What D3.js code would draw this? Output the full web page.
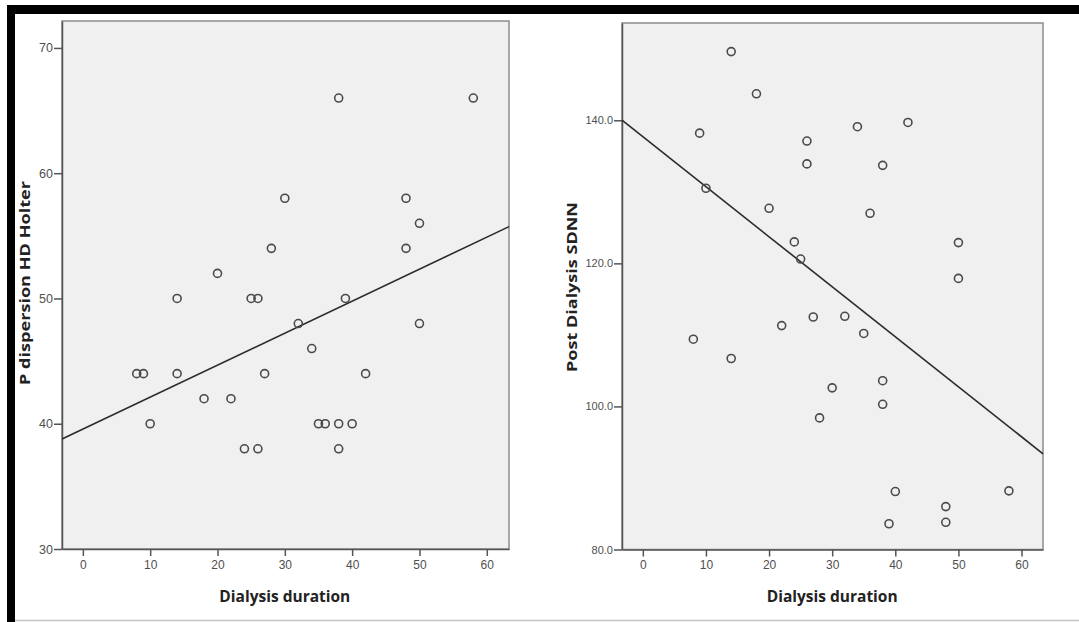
<!DOCTYPE html>
<html>
<head>
<meta charset="utf-8">
<script src="https://cdn.jsdelivr.net/npm/d3@7"></script>
<style>
  body { margin: 0; background: #fff; }
  svg { display: block; }
  .tick text { font-family: "Liberation Sans", Arial, sans-serif; fill: #4f4f4f; }
  .title { font-family: "Open Sans", sans-serif; font-weight: 700; fill: #222; }
</style>
</head>
<body>
<svg id="chart" width="1079" height="622"></svg>
<script>
// Left panel: dialysis duration vs P dispersion
const leftDuration = [8, 9, 10, 14, 14, 18, 20, 22, 24, 25, 26, 26, 27, 28, 30,
  32, 34, 35, 36, 38, 38, 38, 39, 40, 42, 48, 48, 50, 50, 58];
const leftPDisp = [44, 44, 40, 50, 44, 42, 52, 42, 38, 50, 50, 38, 44, 54, 58,
  48, 46, 40, 40, 66, 40, 38, 50, 40, 44, 58, 54, 56, 48, 66];
const leftFit = { intercept: 39.57, slope: 0.2554 };
const leftYTicks = [30, 40, 50, 60, 70];

// Right panel: dialysis duration vs post dialysis SDNN
const rightDuration = [8, 9, 10, 14, 14, 18, 20, 22, 24, 25, 26, 26, 27, 28, 30,
  32, 34, 35, 36, 38, 38, 38, 39, 40, 42, 48, 48, 50, 50, 58];
const rightSDNN = [109.4, 138.2, 130.5, 149.6, 106.7, 143.7, 127.7, 111.3, 123.0, 120.6,
  137.1, 133.9, 112.5, 98.4, 102.6, 112.6, 139.1, 110.2, 127.0, 133.7,
  103.6, 100.3, 83.6, 88.1, 139.7, 86.0, 83.8, 122.9, 117.9, 88.2];
const rightFit = { intercept: 137.7, slope: -0.699 };
const rightYTicks = [80, 100, 120, 140];

const xTicks = [0, 10, 20, 30, 40, 50, 60];

const svg = d3.select("#chart");

// outer frame
svg.append("rect").attr("x", 7).attr("y", 5).attr("width", 1072).attr("height", 9).attr("fill", "#000");
svg.append("rect").attr("x", 7).attr("y", 5).attr("width", 8).attr("height", 617).attr("fill", "#000");
svg.append("line").attr("x1", 15).attr("x2", 1079).attr("y1", 620.5).attr("y2", 620.5)
  .attr("stroke", "#c4c4c4").attr("stroke-width", 1.5);

function drawPanel(p) {
  const x = d3.scaleLinear().domain(p.xDomain).range([p.left, p.right]);
  const y = d3.scaleLinear().domain(p.yDomain).range([p.bottom, p.top]);

  // plot background
  svg.append("rect")
    .attr("x", p.left).attr("y", p.top)
    .attr("width", p.right - p.left).attr("height", p.bottom - p.top)
    .attr("fill", "#f0f0f0")
    .attr("stroke", "#8c8c8c")
    .attr("stroke-width", 1.5);

  // axes
  const yAxis = svg.append("g")
    .attr("transform", `translate(${p.left},0)`)
    .call(d3.axisLeft(y).tickValues(p.yTicks).tickFormat(d3.format(p.yFormat))
      .tickSizeInner(8).tickSizeOuter(0).tickPadding(1));
  const xAxis = svg.append("g")
    .attr("transform", `translate(0,${p.bottom})`)
    .call(d3.axisBottom(x).tickValues(xTicks).tickFormat(d3.format("d"))
      .tickSizeInner(7).tickSizeOuter(0).tickPadding(4));
  [xAxis, yAxis].forEach(g => {
    g.select(".domain").attr("stroke", "#555").attr("stroke-width", 1.5);
    g.selectAll(".tick line").attr("stroke", "#555").attr("stroke-width", 1.5);
  });
  yAxis.selectAll(".tick text").attr("font-size", p.yTickFont);
  xAxis.selectAll(".tick text").attr("font-size", 12);

  // fit line
  const x0 = p.xDomain[0], x1 = p.xDomain[1];
  svg.append("line")
    .attr("x1", x(x0)).attr("y1", y(p.fit.intercept + p.fit.slope * x0))
    .attr("x2", x(x1)).attr("y2", y(p.fit.intercept + p.fit.slope * x1))
    .attr("stroke", "#2b2b2b")
    .attr("stroke-width", 1.6);

  // points
  svg.append("g")
    .selectAll("circle")
    .data(p.xs.map((d, i) => [d, p.ys[i]]))
    .join("circle")
    .attr("cx", d => x(d[0]))
    .attr("cy", d => y(d[1]))
    .attr("r", 4)
    .attr("fill", "none")
    .attr("stroke", "#4a4a4a")
    .attr("stroke-width", 1.6);

  // titles
  svg.append("text")
    .attr("class", "title")
    .attr("x", x(30))
    .attr("y", 602)
    .attr("text-anchor", "middle")
    .attr("font-size", 15.5)
    .text("Dialysis duration");

  svg.append("text")
    .attr("class", "title")
    .attr("transform", `translate(${p.yTitleX},${p.yTitleY}) rotate(-90)`)
    .attr("text-anchor", "middle")
    .attr("font-size", 15)
    .attr("textLength", p.yTitleLen)
    .attr("lengthAdjust", "spacingAndGlyphs")
    .text(p.yTitle);
}

drawPanel({
  xs: leftDuration, ys: leftPDisp, fit: leftFit,
  left: 62, right: 509, top: 21, bottom: 549,
  xDomain: [-3.1, 63.3], yDomain: [30, 72.15],
  yTicks: leftYTicks, yFormat: "d", yTickFont: 12.5,
  yTitle: "P dispersion HD Holter", yTitleX: 30, yTitleY: 283, yTitleLen: 204
});

drawPanel({
  xs: rightDuration, ys: rightSDNN, fit: rightFit,
  left: 622, right: 1043, top: 23, bottom: 549.5,
  xDomain: [-3.3, 63.4], yDomain: [80, 153.6],
  yTicks: rightYTicks, yFormat: ".1f", yTickFont: 11,
  yTitle: "Post Dialysis SDNN", yTitleX: 577, yTitleY: 287, yTitleLen: 170
});
</script>
</body>
</html>
